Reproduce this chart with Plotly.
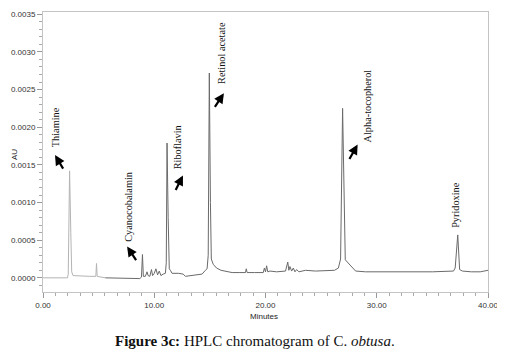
import plotly.graph_objects as go

# retention time (min) and absorbance (AU)
time_min = [0.0, 1.0, 2.2, 2.27, 2.39, 2.50, 2.58, 2.7, 3.5, 4.2, 4.75, 4.81, 4.87, 5.3, 5.6,
            7.0, 8.0, 8.7, 8.85, 8.94, 9.02, 9.2, 9.35, 9.45, 9.6, 9.75, 9.85, 10.0, 10.15,
            10.3, 10.45, 10.6, 10.8, 11.0, 11.08, 11.15, 11.25, 11.35, 11.45, 11.6, 12.2,
            12.6, 12.8, 13.2, 13.8, 14.3, 14.6, 14.75, 14.85, 14.95, 15.05, 15.13, 15.3,
            15.6, 16.0, 16.5, 17.0, 17.7, 18.2, 18.27, 18.35, 19.0, 19.8, 19.9, 20.0, 20.1,
            20.2, 20.4, 21.0, 21.8, 22.0, 22.1, 22.2, 22.35, 22.5, 22.65, 22.8, 23.0, 23.3,
            23.6, 24.5, 25.5, 26.2, 26.55, 26.75, 26.93, 27.05, 27.17, 27.6, 28.1, 29.0,
            31.0, 33.0, 35.0, 36.9, 37.05, 37.28, 37.45, 37.7, 38.5, 39.3, 40.0]
absorb_au = [0.0, 0.0, 0.0, 0.00005, 0.00142, 0.0006, 0.00008, 0.00003, 0.00002, 0.00002,
             0.00002, 0.00019, 0.00002, 0.00001, 0.0, 0.0, -0.00001, -0.00001, 0.00001,
             0.00031, 0.00002, 0.00002, 0.00008, 0.00003, 0.00002, 0.00011, 0.00003,
             0.00006, 0.00012, 0.00004, 0.00009, 0.00003, 0.00005, 0.00006, 0.0002, 0.00179,
             0.0008, 0.00012, 0.0001, 0.00006, 0.00006, 0.00005, 0.00002, 0.00003, 0.00004,
             0.00005, 0.0001, 0.00012, 0.0003, 0.00272, 0.0010, 0.00025, 0.00018, 0.00013,
             0.0001, 0.00008, 0.00007, 0.00007, 0.00007, 0.00012, 0.00007, 0.00007, 0.00007,
             0.00013, 0.00008, 0.00016, 0.00008, 0.00009, 0.00008, 0.00009, 0.00021, 0.0001,
             0.00015, 0.00009, 0.00013, 0.00008, 0.00011, 0.00008, 0.00009, 0.00010, 0.00009,
             0.00009, 0.00010, 0.00013, 0.00025, 0.00225, 0.0009, 0.00024, 0.00017, 0.00009,
             0.00008, 0.00008, 0.00008, 0.00008, 0.00009, 0.00013, 0.00057, 0.00011, 0.00009,
             0.00008, 0.00008, 0.00010]

# peak labels and arrows
peak_names = ["Thiamine", "Cyanocobalamin", "Riboflavin", "Retinol acetate",
              "Alpha-tocopherol", "Pyridoxine"]
label_x = [1.08, 7.62, 12.11, 16.05, 29.15, 37.13]
label_y = [0.00200, 0.00094, 0.00173, 0.00298, 0.00228, 0.00097]
arrow_x = [1.08, 7.56, 12.58, 16.26, 28.28, None]
arrow_y = [0.00163, 0.000415, 0.00136, 0.00245, 0.00177, None]
arrow_dx = [9, 10, -8, -10, -9, None]
arrow_dy = [15, 15, 16, 15, 16, None]

x_ticks = [0, 10, 20, 30, 40]
y_ticks = [0.0, 0.0005, 0.0010, 0.0015, 0.0020, 0.0025, 0.0030, 0.0035]

split = next(i for i, t in enumerate(time_min) if t >= 5.6)

SANS = "Liberation Sans Narrow, Liberation Sans"

fig = go.Figure()
fig.add_trace(go.Scatter(x=time_min[:split + 1], y=absorb_au[:split + 1], mode="lines",
                         line=dict(color="#b4b4b4", width=1), hoverinfo="skip"))
fig.add_trace(go.Scatter(x=time_min[split:], y=absorb_au[split:], mode="lines",
                         line=dict(color="#6a6a6a", width=1), hoverinfo="skip"))

for i, name in enumerate(peak_names):
    fig.add_annotation(x=label_x[i], y=label_y[i], xref="x", yref="y", text=name,
                       textangle=-90, showarrow=False,
                       font=dict(family="Liberation Serif", size=10.3, color="#111"))
    if arrow_x[i] is not None:
        fig.add_annotation(x=arrow_x[i], y=arrow_y[i], xref="x", yref="y", text="",
                           showarrow=True, ax=arrow_dx[i], ay=arrow_dy[i],
                           arrowhead=2, arrowsize=0.9, arrowwidth=2.2, arrowcolor="#000")

# axis titles
fig.add_annotation(x=-29 / 445, y=(292 - 155) / 280, xref="paper", yref="paper", text="AU",
                   textangle=-90, showarrow=False, xanchor="center", yanchor="middle",
                   font=dict(family=SANS, size=8, color="#222"))
fig.add_annotation(x=(264 - 43) / 445, y=-(316 - 292) / 280, xref="paper", yref="paper",
                   text="Minutes", showarrow=False, xanchor="center", yanchor="middle",
                   font=dict(family=SANS, size=8, color="#222"))

# caption
fig.add_annotation(x=(255 - 43) / 445, y=-(341 - 292) / 280, xref="paper", yref="paper",
                   xanchor="center", yanchor="middle",
                   text="<b>Figure 3c:</b> HPLC chromatogram of C. <i>obtusa</i>.",
                   showarrow=False,
                   font=dict(family="Liberation Serif", size=15, color="#111"))

# page body has an 8px default margin, so the figure is sized/placed to compensate
fig.update_layout(
    width=497, height=350,
    margin=dict(l=35, r=17, t=4, b=66, autoexpand=False),
    paper_bgcolor="white", plot_bgcolor="white",
    showlegend=False,
    xaxis=dict(range=[0, 40], tickvals=x_ticks, tickformat=".2f", automargin=False,
               ticks="outside", ticklen=5, tickcolor="#999", tickwidth=1,
               minor=dict(dtick=10 / 9, ticks="outside", ticklen=3, tickcolor="#aaa"),
               showline=True, linecolor="#c4c4c4", linewidth=1, mirror=True,
               showgrid=False, zeroline=False,
               tickfont=dict(family=SANS, size=8, color="#333")),
    yaxis=dict(range=[-0.000188, 0.00353], tickvals=y_ticks, tickformat=".4f", automargin=False,
               ticks="outside", ticklen=5, tickcolor="#999", tickwidth=1,
               minor=dict(dtick=0.0001, ticks="outside", ticklen=3, tickcolor="#aaa"),
               showline=True, linecolor="#c4c4c4", linewidth=1, mirror=True,
               showgrid=False, zeroline=False,
               tickfont=dict(family=SANS, size=8, color="#333")),
)

fig.write_html("out.html")
